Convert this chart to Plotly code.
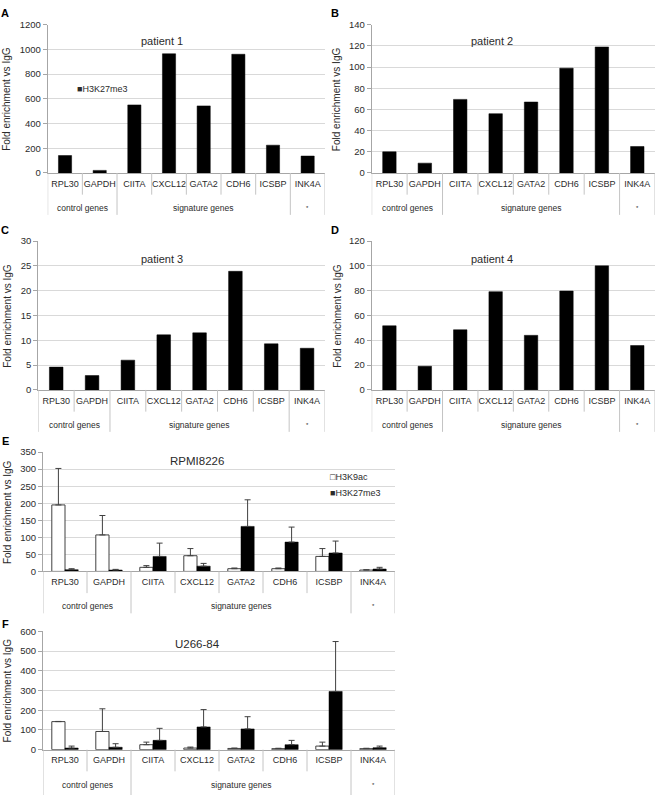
import plotly.graph_objects as go

# ---------------- data ----------------
genes = ["RPL30", "GAPDH", "CIITA", "CXCL12", "GATA2", "CDH6", "ICSBP", "INK4A"]
group_names = ["control genes", "signature genes", "*"]
group_sizes = [2, 5, 1]

patient1 = [141, 21, 551, 965, 543, 961, 225, 137]
patient2 = [20, 9.3, 69.5, 56, 67, 99, 119, 25]
patient3 = [4.6, 2.9, 6.0, 11.1, 11.5, 23.9, 9.3, 8.4]
patient4 = [51.7, 19.1, 48.5, 79.2, 44, 79.7, 100, 35.8]

rpmi_k9ac = [195, 107, 12, 46, 8, 8, 44, 4]
rpmi_k9ac_err = [107, 57, 5, 21, 2, 2, 23, 1]
rpmi_k27 = [5, 4, 44, 15.5, 132, 86, 54, 7]
rpmi_k27_err = [3, 2, 39, 8, 78, 44, 35, 5]

u266_k9ac = [142, 92, 25, 8, 6, 5, 18, 5]
u266_k9ac_err = [1, 115, 13, 5, 2, 2, 20, 2]
u266_k27 = [8, 12, 47, 115, 105, 25, 295, 10]
u266_k27_err = [10, 18, 61, 88, 62, 22, 253, 8]

# ---------------- layout ----------------
W, H = 659, 800
FONT = "Liberation Sans, Arial, sans-serif"
TXT = "#2b2b2b"
GRID = "#d9d9d9"
AXL = "#a6a6a6"
SEP = "#c4c4c4"

# panel pixel boxes: (left, right, top, bottom)
panels = [
    dict(letter="A", title="patient 1", box=(47.7, 325, 19, 169.3), ymax=1200, dtick=200,
         tpos=(0.412, 0.887), ytoff=-40.7, lpos=(5, 7)),
    dict(letter="B", title="patient 2", box=(371.7, 655, 19, 169.3), ymax=140, dtick=20,
         tpos=(0.425, 0.887), ytoff=-34.4, lpos=(335, 7)),
    dict(letter="C", title="patient 3", box=(38.3, 325, 238.3, 389.3), ymax=30, dtick=5,
         tpos=(0.431, 0.878), ytoff=-31, lpos=(5, 227)),
    dict(letter="D", title="patient 4", box=(371.7, 655, 238.3, 389.3), ymax=120, dtick=20,
         tpos=(0.425, 0.878), ytoff=-34.4, lpos=(335, 227)),
    dict(letter="E", title="RPMI8226", box=(43, 395, 452.3, 573.3), ymax=350, dtick=50,
         tpos=(0.4375, 0.922), ytoff=-35.7, lpos=(5, 441)),
    dict(letter="F", title="U266-84", box=(43, 395, 634, 754), ymax=600, dtick=100,
         tpos=(0.44, 0.894), ytoff=-36, lpos=(5, 627)),
]

fig = go.Figure()
layout = dict(width=W, height=H, margin=dict(l=0, r=0, t=0, b=0),
              paper_bgcolor="white", plot_bgcolor="white", showlegend=False,
              font=dict(family=FONT, color=TXT), shapes=[], annotations=[])

single = [patient1, patient2, patient3, patient4]

for i, p in enumerate(panels):
    n = i + 1
    sx = "" if n == 1 else str(n)
    xa, ya = "x" + sx, "y" + sx
    l, r, t, b = p["box"]
    h = b - t
    layout["xaxis" + sx] = dict(
        domain=[l / W, r / W], anchor=ya, type="category", range=[-0.5, 7.5],
        showline=True, linecolor=AXL, linewidth=1, ticks="", showgrid=False,
        tickfont=dict(size=9, color=TXT, family=FONT), ticklabelstandoff=2,
        fixedrange=True)
    layout["yaxis" + sx] = dict(
        domain=[1 - b / H, 1 - t / H], anchor=xa, range=[0, p["ymax"]], dtick=p["dtick"],
        showgrid=True, gridcolor=GRID, gridwidth=1, zeroline=False,
        showline=True, linecolor=AXL, linewidth=1, ticks="outside", ticklen=4,
        tickcolor=AXL, tickfont=dict(size=9.5, color=TXT, family=FONT), fixedrange=True)

    if i < 4:
        fig.add_trace(go.Bar(x=genes, y=single[i], name="H3K27me3", width=0.38,
                             marker=dict(color="black", line=dict(color="black", width=0.5)),
                             xaxis=xa, yaxis=ya))
    else:
        k9, k9e, k27, k27e = ((rpmi_k9ac, rpmi_k9ac_err, rpmi_k27, rpmi_k27_err) if i == 4
                              else (u266_k9ac, u266_k9ac_err, u266_k27, u266_k27_err))
        fig.add_trace(go.Bar(x=genes, y=k9, name="H3K9ac", width=0.3, offset=-0.3,
                             marker=dict(color="white", line=dict(color="#404040", width=1)),
                             error_y=dict(type="data", array=k9e, arrayminus=[0] * 8,
                                          symmetric=False, color="#404040", thickness=1, width=3),
                             xaxis=xa, yaxis=ya))
        fig.add_trace(go.Bar(x=genes, y=k27, name="H3K27me3", width=0.3, offset=0,
                             marker=dict(color="black", line=dict(color="black", width=0.5)),
                             error_y=dict(type="data", array=k27e, arrayminus=[0] * 8,
                                          symmetric=False, color="#404040", thickness=1, width=3),
                             xaxis=xa, yaxis=ya))

    # table separators under the axis
    cat_off = 22 / h
    grp_off = (46 if i == 5 else 42.5) / h
    edges = [-0.5]
    acc = -0.5
    for s in group_sizes:
        acc += s
        edges.append(acc)
    for k in range(len(genes) + 1):
        xb = k - 0.5
        yb = -grp_off if xb in edges else -cat_off
        layout["shapes"].append(dict(type="line", xref=xa, yref=ya + " domain",
                                     x0=xb, x1=xb, y0=0, y1=yb,
                                     line=dict(color=SEP, width=1)))
    # group labels
    start = 0
    for gname, s in zip(group_names, group_sizes):
        center = start + (s - 1) / 2
        start += s
        layout["annotations"].append(dict(
            text=gname, xref=xa, yref=ya + " domain", x=center, y=0, yshift=-35,
            yanchor="middle", showarrow=False,
            font=dict(size=(6 if gname == "*" else 8.5), color=TXT, family=FONT)))
    # panel title
    layout["annotations"].append(dict(
        text=p["title"], xref=xa + " domain", yref=ya + " domain",
        x=p["tpos"][0], y=p["tpos"][1], xanchor="center", yanchor="middle",
        showarrow=False, font=dict(size=11.5 if i >= 4 else 11, color=TXT, family=FONT)))
    # y axis title
    layout["annotations"].append(dict(
        text="Fold enrichment vs IgG", xref=xa + " domain", yref=ya + " domain",
        x=0, y=0.5, xshift=p["ytoff"], textangle=-90, xanchor="center", yanchor="middle",
        showarrow=False, font=dict(size=10, color=TXT, family=FONT)))
    # panel letter
    layout["annotations"].append(dict(
        text="<b>%s</b>" % p["letter"], xref="paper", yref="paper",
        x=p["lpos"][0] / W, y=1 - p["lpos"][1] / H, xanchor="center", yanchor="middle",
        showarrow=False, font=dict(size=11, color="black", family=FONT)))

# legends (as text keys)
layout["annotations"].append(dict(
    text="■H3K27me3", xref="x domain", yref="y domain", x=0.098, y=0.567,
    xanchor="left", yanchor="middle", showarrow=False,
    font=dict(size=9, color=TXT, family=FONT)))
layout["annotations"].append(dict(
    text="□H3K9ac", xref="x5 domain", yref="y5 domain", x=0.81, y=0.79,
    xanchor="left", yanchor="middle", showarrow=False,
    font=dict(size=9, color=TXT, family=FONT)))
layout["annotations"].append(dict(
    text="■H3K27me3", xref="x5 domain", yref="y5 domain", x=0.81, y=0.653,
    xanchor="left", yanchor="middle", showarrow=False,
    font=dict(size=9, color=TXT, family=FONT)))

fig.update_layout(**layout)
fig.write_html("out.html", config={"displayModeBar": False},
               post_script="document.body.style.margin='0';document.body.style.padding='0';")
